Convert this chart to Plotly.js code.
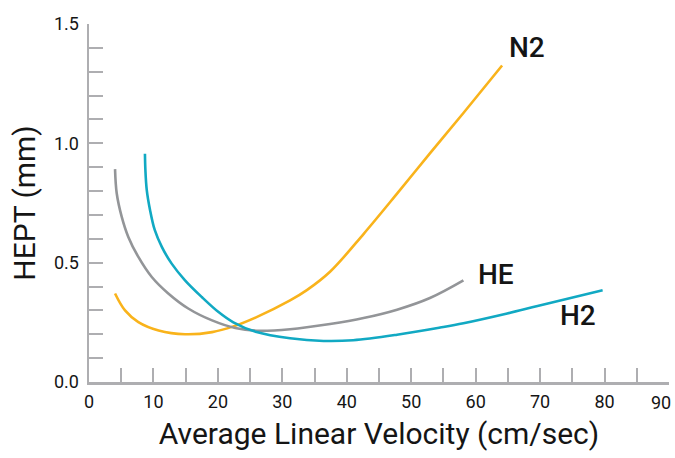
<!DOCTYPE html>
<html>
<head>
<meta charset="utf-8">
<script src="https://cdn.plot.ly/plotly-3.0.1.min.js"></script>
<style>html,body{margin:0;padding:0;background:#fff;}#chart{width:675px;height:458px;}</style>
</head>
<body>
<div id="chart"></div>
<script>
// Average linear velocity (cm/sec) vs HEPT (mm)
const n2X = [4.04, 5.59, 7.66, 10.8, 14.9, 19.1, 22.4, 26.0, 31.2, 33.8, 37.4, 42.6, 47.8, 52.9, 58.1, 64.1];
const n2Y = [0.371, 0.300, 0.251, 0.216, 0.200, 0.209, 0.233, 0.272, 0.342, 0.385, 0.462, 0.620, 0.789, 0.958, 1.127, 1.326];

const heX = [4.04, 4.30, 5.08, 6.10, 7.66, 9.74, 12.3, 15.4, 19.1, 22.7, 26.0, 31.2, 37.4, 42.6, 47.8, 52.9, 58.1];
const heY = [0.892, 0.791, 0.692, 0.608, 0.524, 0.440, 0.371, 0.308, 0.258, 0.226, 0.215, 0.221, 0.243, 0.268, 0.303, 0.352, 0.426];

const h2X = [8.68, 8.75, 8.96, 9.47, 10.2, 11.3, 12.8, 14.9, 17.5, 20.1, 22.4, 26.0, 31.2, 36.4, 41.0, 47.8, 54.5, 58.1, 64.9, 69.6, 79.7];
const h2Y = [0.956, 0.888, 0.805, 0.721, 0.637, 0.566, 0.497, 0.426, 0.356, 0.293, 0.250, 0.209, 0.183, 0.172, 0.175, 0.198, 0.228, 0.246, 0.287, 0.318, 0.384];

const seriesNames = ["N2", "HE", "H2"];
const labelX = [67.9, 63.2, 75.9];
const labelY = [1.40, 0.45, 0.277];

const xTickVals = [0, 10, 20, 30, 40, 50, 60, 70, 80, 90];
const xTickText = ["0", "10", "20", "30", "40", "50", "60", "70", "80", "90"];
const yTickVals = [0, 0.5, 1.0, 1.5];
const yTickText = ["0.0", "0.5", "1.0", "1.5"];

const colors = ["#F9B31B", "#939598", "#11A9C3"];
const axisGrey = "#AEAEB1";
const font = "Roboto, 'Noto Sans', sans-serif";
const textColor = "#151515";

const traces = [
  {x: n2X, y: n2Y, name: seriesNames[0]},
  {x: heX, y: heY, name: seriesNames[1]},
  {x: h2X, y: h2Y, name: seriesNames[2]}
].map((t, i) => Object.assign(t, {
  type: "scatter", mode: "lines",
  line: {color: colors[i], width: 2.6, shape: "spline", smoothing: 1.0},
  hoverinfo: "skip"
}));

const annotations = seriesNames.map((n, i) => ({
  x: labelX[i], y: labelY[i], xref: "x", yref: "y",
  text: n, showarrow: false,
  font: {family: font, size: 28, color: textColor, weight: 500}
}));

// The last x tick label sits at the right edge; draw it right-aligned so it stays inside the page
const lastIdx = xTickVals.length - 1;
annotations.push({
  x: xTickVals[lastIdx], y: 0, xref: "x", yref: "y",
  text: xTickText[lastIdx], showarrow: false,
  xanchor: "right", yanchor: "top", xshift: 4, yshift: -8,
  font: {family: font, size: 18, color: textColor}
});
const shownTickText = xTickText.map((t, i) => i === lastIdx ? "" : t);

const layout = {
  width: 675, height: 458,
  margin: {l: 89, r: 6, t: 24, b: 76, pad: 0},
  paper_bgcolor: "#ffffff", plot_bgcolor: "#ffffff",
  showlegend: false,
  font: {family: font, color: textColor},
  xaxis: {
    range: [0, 90], fixedrange: true,
    tickmode: "array", tickvals: xTickVals, ticktext: shownTickText,
    ticks: "inside", ticklen: 14, tickwidth: 2, tickcolor: axisGrey,
    minor: {dtick: 5, ticks: "inside", ticklen: 14, tickwidth: 2, tickcolor: axisGrey, showgrid: false},
    showline: true, linecolor: axisGrey, linewidth: 2.5,
    showgrid: false, zeroline: false,
    tickfont: {family: font, size: 18, color: textColor},
    ticklabelstandoff: 2,
    title: {text: "Average Linear Velocity (cm/sec)", font: {family: font, size: 30, color: textColor}, standoff: 12}
  },
  yaxis: {
    range: [0, 1.5], fixedrange: true,
    tickmode: "array", tickvals: yTickVals, ticktext: yTickText,
    ticks: "inside", ticklen: 14, tickwidth: 2, tickcolor: axisGrey,
    minor: {dtick: 0.1, ticks: "inside", ticklen: 14, tickwidth: 2, tickcolor: axisGrey, showgrid: false},
    showline: true, linecolor: axisGrey, linewidth: 2.5,
    showgrid: false, zeroline: false,
    tickfont: {family: font, size: 18, color: textColor},
    ticklabelstandoff: 4,
    ticklabeloverflow: "allow",
    title: {text: "HEPT (mm)", font: {family: font, size: 30, color: textColor}, standoff: 10}
  },
  annotations: annotations
};

Plotly.newPlot("chart", traces, layout, {displayModeBar: false, staticPlot: true});
</script>
</body>
</html>
